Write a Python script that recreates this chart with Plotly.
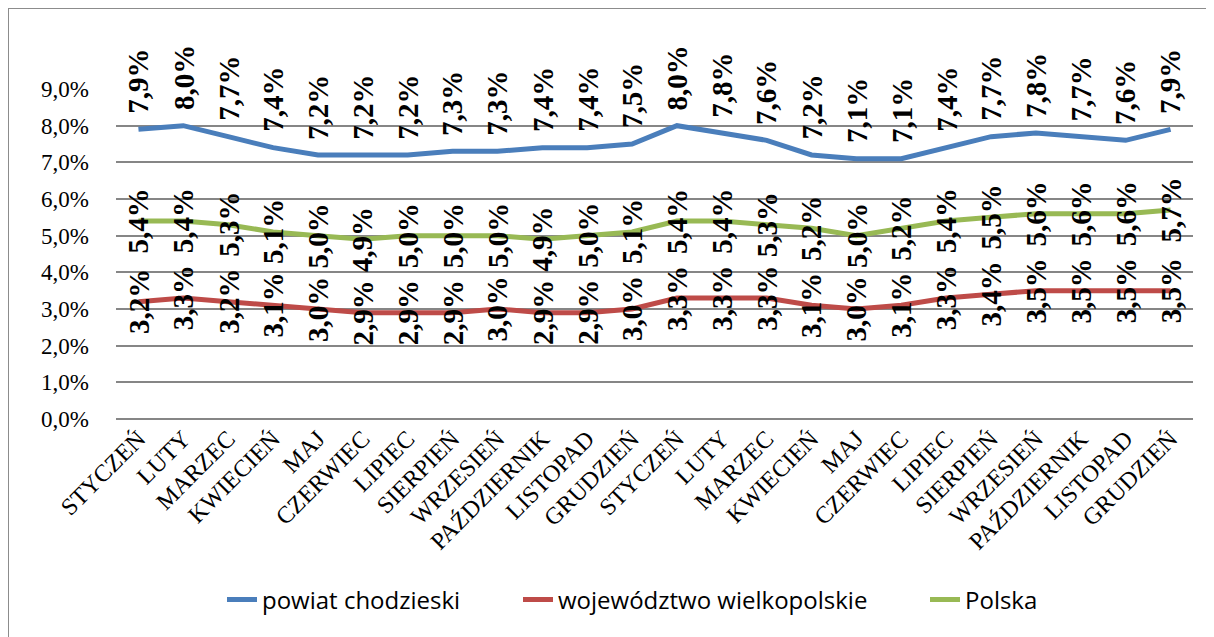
import plotly.graph_objects as go

months = ["STYCZEŃ", "LUTY", "MARZEC", "KWIECIEŃ", "MAJ", "CZERWIEC", "LIPIEC",
          "SIERPIEŃ", "WRZESIEŃ", "PAŹDZIERNIK", "LISTOPAD", "GRUDZIEŃ"] * 2

powiat = [7.9, 8.0, 7.7, 7.4, 7.2, 7.2, 7.2, 7.3, 7.3, 7.4, 7.4, 7.5,
          8.0, 7.8, 7.6, 7.2, 7.1, 7.1, 7.4, 7.7, 7.8, 7.7, 7.6, 7.9]
wojewodztwo = [3.2, 3.3, 3.2, 3.1, 3.0, 2.9, 2.9, 2.9, 3.0, 2.9, 2.9, 3.0,
               3.3, 3.3, 3.3, 3.1, 3.0, 3.1, 3.3, 3.4, 3.5, 3.5, 3.5, 3.5]
polska = [5.4, 5.4, 5.3, 5.1, 5.0, 4.9, 5.0, 5.0, 5.0, 4.9, 5.0, 5.1,
          5.4, 5.4, 5.3, 5.2, 5.0, 5.2, 5.4, 5.5, 5.6, 5.6, 5.6, 5.7]

y_ticks = [0, 1, 2, 3, 4, 5, 6, 7, 8, 9]

def pct(v):
    return f"{v:.1f}%".replace(".", ",")

x = list(range(len(months)))

# name, values, colour, label shift, legend id, legend left (page px)
series = [
    ("powiat chodzieski", powiat, "#4A7EBB", 48, "legend", 222),
    ("województwo wielkopolskie", wojewodztwo, "#BE4B48", 0, "legend2", 518),
    ("Polska", polska, "#98B954", 0, "legend3", 925),
]

# figure is placed 8px from the page's top-left corner
W, H = 1206, 629
L, R, T, B = 108, 21, 81, 218
pw, ph = W - L - R, H - T - B

fig = go.Figure()
annotations = []
legends = {}
for name, vals, color, shift, leg, lx in series:
    fig.add_trace(go.Scatter(x=x, y=vals, mode="lines", name=name, legend=leg,
                             line=dict(color=color, width=5)))
    legends[leg] = dict(orientation="h", x=(lx - 8 - L) / pw, xanchor="left",
                        y=(T + ph - 592) / ph, yanchor="middle",
                        font=dict(family="Open Sans", size=24, color="black"),
                        bgcolor="rgba(0,0,0,0)")
    for xi, v in zip(x, vals):
        annotations.append(dict(x=xi, y=v, xref="x", yref="y", text=pct(v),
                                showarrow=False, textangle=-90, yshift=shift,
                                font=dict(family="Liberation Serif", size=29,
                                          color="black", weight="bold")))

fig.update_layout(
    width=W, height=H,
    margin=dict(l=L, r=R, t=T, b=B),
    paper_bgcolor="white", plot_bgcolor="white",
    font=dict(family="Liberation Serif", color="black"),
    annotations=annotations,
    showlegend=True,
    shapes=[dict(type="rect", xref="paper", yref="paper",
                 x0=(0 - L) / pw, x1=(1215 - L) / pw,
                 y0=(T + ph - 640) / ph, y1=(T + ph - 0) / ph,
                 line=dict(color="#8C8C8C", width=2), layer="below")],
    **legends,
)

fig.update_xaxes(range=[-0.5, 23.5], tickvals=x, ticktext=months, tickangle=-45,
                 showgrid=False, zeroline=False, showline=False, ticks="",
                 tickfont=dict(family="Liberation Serif", size=24, color="black"))
fig.update_yaxes(range=[0, 9], tickvals=y_ticks, ticktext=[pct(v) for v in y_ticks],
                 showgrid=True, gridcolor="#868686", gridwidth=2,
                 zeroline=True, zerolinecolor="#868686", zerolinewidth=2,
                 showline=False, ticks="", ticklabelstandoff=26,
                 tickfont=dict(family="Liberation Serif", size=23, color="black"))

fig.write_html("out.html")
